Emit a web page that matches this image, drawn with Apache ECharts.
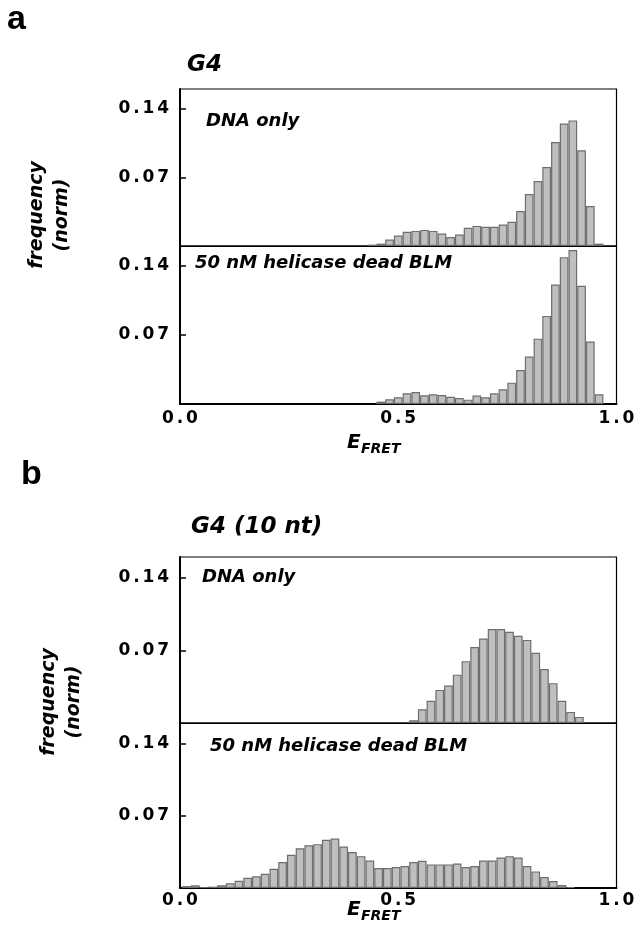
<!DOCTYPE html>
<html><head><meta charset="utf-8">
<script src="https://cdn.jsdelivr.net/npm/echarts@6/dist/echarts.min.js"></script>
<style>html,body{margin:0;padding:0;background:#fff}#c{width:644px;height:931px}</style>
</head><body><div id="c"></div>
<script>
// ---- data (bin centers in E_FRET, normalized frequency) ----
const aTopBins = [0.44,0.46,0.48,0.50,0.52,0.54,0.56,0.58,0.60,0.62,0.64,0.66,0.68,0.70,0.72,0.74,0.76,0.78,0.80,0.82,0.84,0.86,0.88,0.90,0.92,0.94,0.96];
const aTopFreq = [0.0014,0.0024,0.0065,0.0106,0.0144,0.0154,0.0164,0.0154,0.0127,0.0092,0.0116,0.0185,0.0205,0.0195,0.0195,0.0219,0.0246,0.0356,0.0530,0.0663,0.0804,0.1060,0.1248,0.1280,0.0975,0.0407,0.0024];
const aBotBins = [0.46,0.48,0.50,0.52,0.54,0.56,0.58,0.60,0.62,0.64,0.66,0.68,0.70,0.72,0.74,0.76,0.78,0.80,0.82,0.84,0.86,0.88,0.90,0.92,0.94,0.96];
const aBotFreq = [0.0024,0.0047,0.0068,0.0108,0.0122,0.0088,0.0098,0.0091,0.0074,0.0061,0.0044,0.0085,0.0068,0.0108,0.0149,0.0216,0.0345,0.0480,0.0662,0.0892,0.1210,0.1487,0.1560,0.1197,0.0632,0.0098];
const bTopBins = [0.535,0.555,0.575,0.595,0.615,0.635,0.655,0.675,0.695,0.715,0.735,0.755,0.775,0.795,0.815,0.835,0.855,0.875,0.895,0.915];
const bTopFreq = [0.0026,0.0133,0.0215,0.0319,0.0361,0.0466,0.0596,0.0733,0.0814,0.0905,0.0905,0.0879,0.0840,0.0801,0.0677,0.0521,0.0384,0.0215,0.0107,0.0059];
const bBotBins = [0.015,0.035,0.055,0.075,0.095,0.115,0.135,0.155,0.175,0.195,0.215,0.235,0.255,0.275,0.295,0.315,0.335,0.355,0.375,0.395,0.415,0.435,0.455,0.475,0.495,0.515,0.535,0.555,0.575,0.595,0.615,0.635,0.655,0.675,0.695,0.715,0.735,0.755,0.775,0.795,0.815,0.835,0.855,0.875,0.895];
const bBotFreq = [0.0019,0.0026,0.0010,0.0013,0.0026,0.0045,0.0071,0.0100,0.0113,0.0138,0.0187,0.0251,0.0322,0.0386,0.0415,0.0425,0.0467,0.0480,0.0403,0.0348,0.0309,0.0267,0.0193,0.0193,0.0203,0.0213,0.0251,0.0264,0.0229,0.0229,0.0229,0.0238,0.0203,0.0213,0.0267,0.0267,0.0296,0.0309,0.0296,0.0213,0.0161,0.0106,0.0068,0.0029,0.0010];
const yTickValues = [0.07, 0.14];
const yTickLabels = ['0.07', '0.14'];
const xTickValues = [0, 0.5, 1];
const xTickLabels = ['0.0', '0.5', '1.0'];
const panelTitles = ['G4', 'G4 (10 nt)'];
const conditionLabels = ['DNA only', '50 nM helicase dead BLM'];

// ---- layout ----
const L = 180, R = 644 - 616.5;
const grids = [
  {top: 89, height: 157},
  {top: 246, height: 158},
  {top: 557, height: 166},
  {top: 723, height: 165}
];
const sp = s => s.split('').join('\u2006');
const tickFont = {fontFamily: 'DejaVu Sans', fontWeight: 'bold', fontSize: 17, color: '#000'};

const chart = echarts.init(document.getElementById('c'), null, {renderer: 'canvas'});
const xAxes = [], yAxes = [], series = [];
const datasets = [[aTopBins, aTopFreq], [aBotBins, aBotFreq], [bTopBins, bTopFreq], [bBotBins, bBotFreq]];
grids.forEach((g, i) => {
  const bottom = (i % 2 === 1);
  xAxes.push({
    type: 'value', gridIndex: i, min: 0, max: 1,
    axisLine: {show: true, onZero: false, lineStyle: {color: '#000', width: bottom ? 2 : 1.2}},
    axisTick: {show: false},
    splitLine: {show: false},
    axisLabel: {show: bottom, customValues: xTickValues, margin: i === 1 ? 6 : 4,
      formatter: v => sp(xTickLabels[xTickValues.indexOf(v)] ?? ''), ...tickFont}
  });
  yAxes.push({
    type: 'value', gridIndex: i, min: 0, max: 0.16, interval: 0.07,
    axisLine: {show: true, lineStyle: {color: '#000', width: 2}},
    axisTick: {show: true, inside: true, length: 6, customValues: yTickValues, lineStyle: {color: '#000', width: 1.5}},
    splitLine: {show: false},
    axisLabel: {customValues: yTickValues, margin: 11,
      formatter: v => sp(yTickLabels[yTickValues.indexOf(v)] ?? ''), ...tickFont}
  });
  const [bins, freq] = datasets[i];
  series.push({
    type: 'bar', xAxisIndex: i, yAxisIndex: i,
    data: bins.map((x, k) => [x, freq[k]]),
    barWidth: 8.7,
    itemStyle: {color: '#bfbfbf', borderColor: '#6e6e6e', borderWidth: 1.2},
    clip: true
  });
});

const it = (txt, x, y, size, extra) => Object.assign({
  type: 'text', x: x, y: y,
  style: {text: txt, font: 'italic bold ' + size + 'px "DejaVu Sans"', fill: '#000', textAlign: 'left', textVerticalAlign: 'middle'}
}, extra || {});

const graphic = [
  {type: 'text', x: 7, y: 20, style: {text: 'a', font: 'bold 34px "Liberation Sans"', fill: '#000', textVerticalAlign: 'middle'}},
  {type: 'text', x: 21, y: 475, style: {text: 'b', font: 'bold 34px "Liberation Sans"', fill: '#000', textVerticalAlign: 'middle'}},
  it(panelTitles[0], 187, 65, 23),
  it(panelTitles[1], 191, 527, 23),
  it(conditionLabels[0], 206, 121, 18),
  it(conditionLabels[1], 195, 263, 18),
  it(conditionLabels[0], 202, 577, 18),
  it(conditionLabels[1], 210, 746, 18),
  // y titles (rotated)
  {type: 'text', x: 50, y: 215, rotation: Math.PI / 2,
   style: {text: 'frequency\n(norm)', font: 'italic bold 19px "DejaVu Sans"', fill: '#000', textAlign: 'center', textVerticalAlign: 'middle', lineHeight: 25}},
  {type: 'text', x: 62, y: 702, rotation: Math.PI / 2,
   style: {text: 'frequency\n(norm)', font: 'italic bold 19px "DejaVu Sans"', fill: '#000', textAlign: 'center', textVerticalAlign: 'middle', lineHeight: 25}},
  // x titles E_FRET
  it('E', 347, 443, 20),
  it('FRET', 361, 449, 14),
  it('E', 347, 910, 20),
  it('FRET', 361, 916, 14)
];

chart.setOption({
  animation: false,
  backgroundColor: '#fff',
  grid: grids.map(g => ({left: L, right: R, top: g.top, height: g.height, show: true, borderColor: '#000', borderWidth: 1.2, containLabel: false})),
  xAxis: xAxes,
  yAxis: yAxes,
  series: series,
  graphic: graphic
});
</script>
</body></html>
